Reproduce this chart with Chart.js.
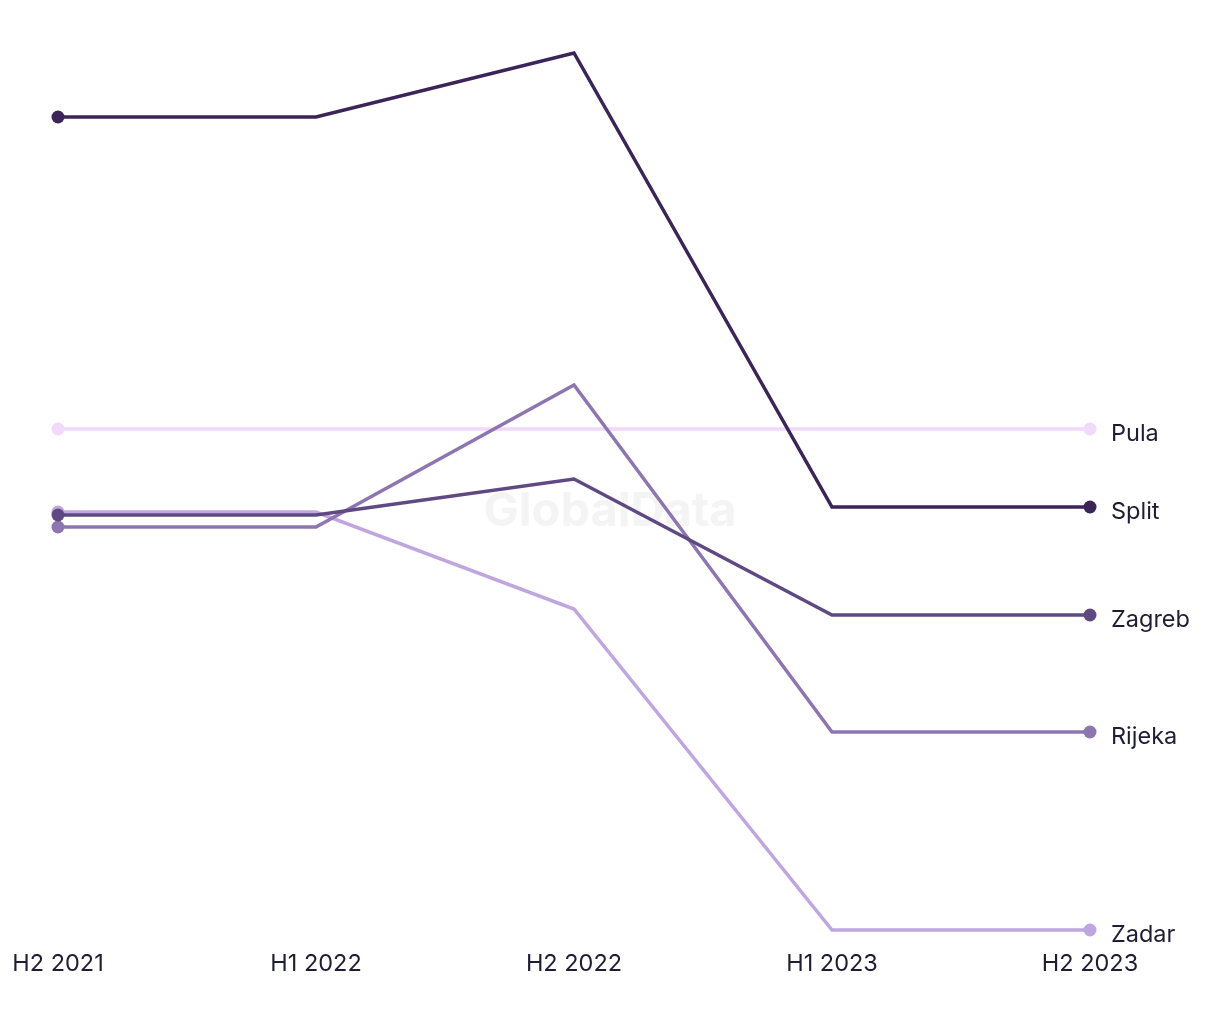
<!DOCTYPE html>
<html>
<head>
<meta charset="utf-8">
<script src="https://cdn.jsdelivr.net/npm/chart.js@4.4.0/dist/chart.umd.min.js"></script>
<style>
  html, body { margin: 0; padding: 0; background: #fff; }
  #wrap { width: 1220px; height: 1020px; position: relative; }
</style>
</head>
<body>
<div id="wrap"><canvas id="chart"></canvas></div>
<script>
const periods = ['H2 2021', 'H1 2022', 'H2 2022', 'H1 2023', 'H2 2023'];

const split  = [81.3, 81.3, 87.7, 42.3, 42.3];
const zagreb = [41.5, 41.5, 45.1, 31.5, 31.5];
const rijeka = [40.3, 40.3, 54.5, 19.8, 19.8];
const zadar  = [41.8, 41.8, 32.1, 0, 0];
const pula   = [50.1, 50.1, 50.1, 50.1, 50.1];

const cities = ['Split', 'Zagreb', 'Rijeka', 'Zadar', 'Pula'];
const colors = ['#3b2458', '#5f4983', '#8d75b1', '#bfa6e1', '#f1d9fb'];
const values = [split, zagreb, rijeka, zadar, pula];

const FONT = 'Inter, "Noto Sans", sans-serif';
const TEXT = '#1f1d33';

// dot only at the ends
const endRadius = (ctx) => (ctx.dataIndex === 0 || ctx.dataIndex === periods.length - 1) ? 6.5 : 0;

const watermark = {
  id: 'watermark',
  beforeDatasetsDraw(chart) {
    const { ctx } = chart;
    ctx.save();
    ctx.font = 'bold 47px ' + FONT;
    ctx.fillStyle = '#f4f4f4';
    ctx.textAlign = 'center';
    ctx.textBaseline = 'middle';
    ctx.fillText('GlobalData', 610, 512);
    ctx.restore();
  }
};

const endLabels = {
  id: 'endLabels',
  afterDatasetsDraw(chart) {
    const { ctx } = chart;
    ctx.save();
    ctx.font = '23.5px ' + FONT;
    ctx.fillStyle = TEXT;
    ctx.textBaseline = 'middle';
    chart.data.datasets.forEach((ds, i) => {
      const meta = chart.getDatasetMeta(i);
      const pt = meta.data[meta.data.length - 1];
      ctx.fillText(ds.label, pt.x + 21, pt.y + 5);
    });
    ctx.restore();
  }
};

new Chart(document.getElementById('chart'), {
  type: 'line',
  data: {
    labels: periods,
    datasets: cities.map((c, i) => ({
      label: c,
      data: values[i],
      borderColor: colors[i],
      backgroundColor: colors[i],
      borderWidth: 3.5,
      tension: 0,
      pointRadius: endRadius,
      pointHoverRadius: endRadius,
      pointBorderWidth: 0,
      clip: false
    }))
  },
  options: {
    responsive: true,
    maintainAspectRatio: false,
    animation: false,
    layout: { padding: { top: 30, left: 0, right: 130, bottom: 30 } },
    plugins: {
      legend: { display: false },
      tooltip: { enabled: false }
    },
    scales: {
      x: {
        offset: false,
        grid: { display: false, drawTicks: false },
        border: { display: false },
        ticks: { color: TEXT, font: { family: FONT, size: 23.5 }, padding: 20, maxRotation: 0, autoSkip: false },
        afterFit(scale) { scale.height = 60; scale.paddingLeft = 58; }
      },
      y: {
        display: false,
        min: 0,
        max: 90
      }
    }
  },
  plugins: [watermark, endLabels]
});
</script>
</body>
</html>
